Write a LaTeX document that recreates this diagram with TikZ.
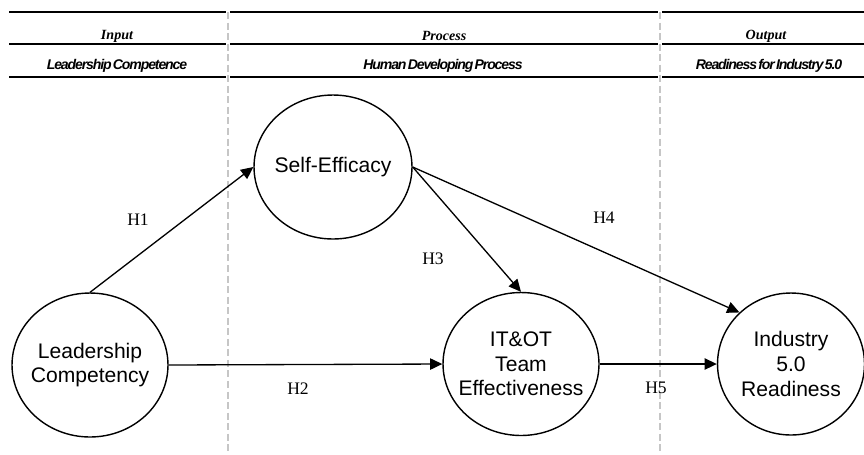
\documentclass[tikz,border=0pt]{standalone}
\usepackage{fontspec}
\setmainfont{Liberation Serif}
\setsansfont{Liberation Sans}
\newfontfamily\subheadfont[LetterSpace=-8,WordSpace=0.45]{Liberation Sans}
\usepackage{tikz}
\usetikzlibrary{shapes.geometric}
\usetikzlibrary{arrows.meta}

\begin{document}
\begin{tikzpicture}[x=0.02cm, y=-0.02cm,
  construct/.style={draw, shape=ellipse, line width=0.8pt, inner sep=-0.3cm,
                    align=center, font=\sffamily\fontsize{12}{14}\selectfont},
  effect/.style={-{Triangle[length=7pt,width=6.5pt]}, line width=0.75pt},
  hyplabel/.style={font=\fontsize{10}{12}\selectfont},
  colhead/.style={font=\bfseries\itshape\fontsize{8}{10}\selectfont},
  colsub/.style={font=\subheadfont\bfseries\itshape\fontsize{8}{10}\selectfont},
  rulerow/.style={line width=0.6pt},
  divider/.style={gray!45, line width=0.7pt, dash pattern=on 4pt off 2pt}]

\useasboundingbox (0,0) rectangle (864,454);

% table head
\draw[rulerow] (9,12) -- (226,12);
\draw[rulerow] (230,12) -- (658,12);
\draw[rulerow] (662,12) -- (864,12);
\draw[rulerow] (9,44) -- (226,44);
\draw[rulerow] (230,44) -- (658,44);
\draw[rulerow] (662,44) -- (864,44);
\draw[rulerow] (9,77) -- (226,77);
\draw[rulerow] (230,77) -- (658,77);
\draw[rulerow] (662,77) -- (864,77);
\draw[divider] (228,12) -- (228,454);
\draw[divider] (660,12) -- (660,454);

\node[colhead] (inputhead) at (117,36) {Input};
\node[colhead] (processhead) at (444,36) {Process};
\node[colhead] (outputhead) at (766,36) {Output};
\node[colsub] (inputsub) at (117,66) {Leadership Competence};
\node[colsub] (processsub) at (443,66) {Human Developing Process};
\node[colsub] (outputsub) at (769,66) {Readiness for Industry 5.0};

% constructs
\node[construct, minimum width=3.12cm, minimum height=2.88cm] (lc) at (90,365) {Leadership\\Competency};
\node[construct, minimum width=3.16cm, minimum height=2.88cm] (se) at (333,167) {Self-Efficacy};
\node[construct, minimum width=3.12cm, minimum height=2.86cm] (it) at (521,364) {IT\&OT\\Team\\Effectiveness};
\node[construct, minimum width=2.94cm, minimum height=2.84cm] (ind) at (791,364) {Industry\\5.0\\Readiness};

% hypotheses
\draw[effect] (lc.north) -- (se.west);
\draw[effect] (lc.east) -- (it.west);
\draw[effect] (se.east) -- (it.north);
\draw[effect] (se.east) -- (ind.135);
\draw[effect] (it.east) -- (ind.west);

\node[hyplabel] (h1) at (138,220) {H1};
\node[hyplabel] (h2) at (298,389) {H2};
\node[hyplabel] (h3) at (433,259) {H3};
\node[hyplabel] (h4) at (604,218) {H4};
\node[hyplabel] (h5) at (656,388) {H5};
\end{tikzpicture}
\end{document}
